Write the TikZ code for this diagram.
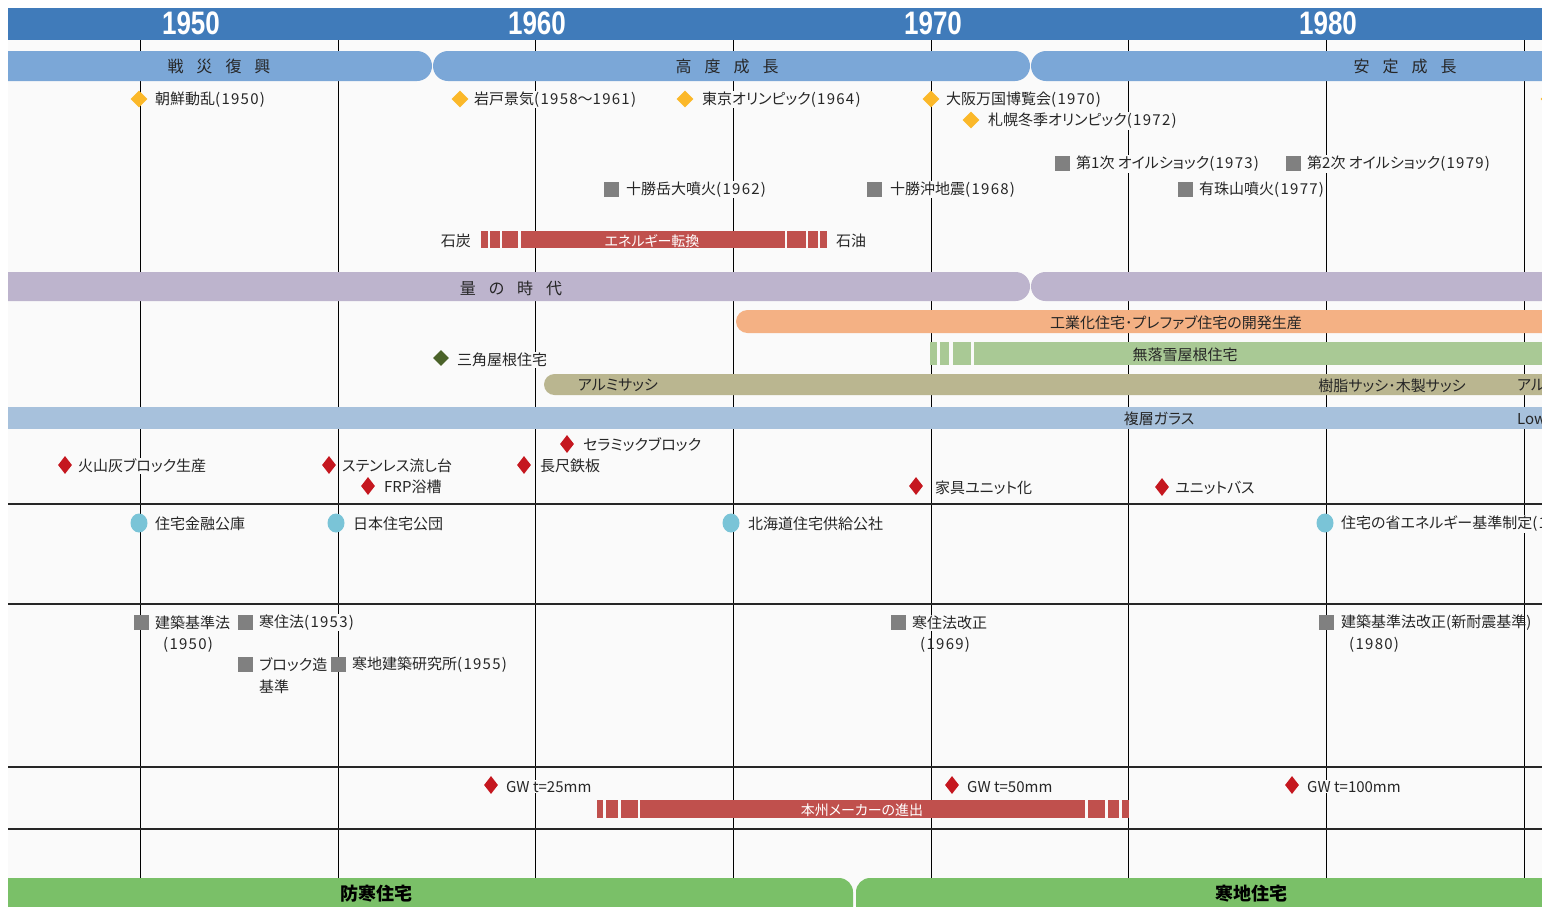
\documentclass[tikz,border=0pt]{standalone}
\usepackage{fontspec}
\usepackage{graphicx}
\usetikzlibrary{shapes.geometric}
\setmainfont{Noto Sans CJK JP}[RawFeature=+palt]
\newfontfamily\yearfont{Liberation Sans}
\newfontfamily\latf{Noto Sans CJK JP}[LetterSpace=8.5]
\newcommand\lat[1]{{\latf\fontsize{15}{18}\selectfont #1}}
\definecolor{bgc}{RGB}{250,250,250}
\definecolor{hdc}{RGB}{64,123,186}
\definecolor{era1c}{RGB}{123,167,215}
\definecolor{era2c}{RGB}{189,180,205}
\definecolor{orc}{RGB}{244,177,132}
\definecolor{grc}{RGB}{169,201,149}
\definecolor{khc}{RGB}{186,182,144}
\definecolor{glc}{RGB}{167,193,220}
\definecolor{redbar}{RGB}{192,80,77}
\definecolor{botc}{RGB}{122,192,104}
\definecolor{ydc}{RGB}{251,184,41}
\definecolor{sqc}{RGB}{128,128,128}
\definecolor{dgc}{RGB}{74,98,41}
\definecolor{rdc}{RGB}{197,23,31}
\definecolor{cyc}{RGB}{122,196,215}
\definecolor{txtc}{RGB}{38,38,38}
\tikzset{
  txt/.style={anchor=west, font=\fontsize{15}{18}\selectfont, text=txtc, inner sep=1pt, fill=bgc, yshift=-0.7pt},
  txtn/.style={anchor=west, font=\fontsize{15}{18}\selectfont, text=txtc, inner sep=1pt, yshift=-0.7pt},
  bartxt/.style={font=\fontsize{15}{18}\selectfont, text=txtc, inner sep=0pt, yshift=-1pt},
  wbartxt/.style={font=\fontsize{14}{18}\selectfont, text=white, inner sep=0pt, yshift=-1pt},
  eratxt/.style={font=\fontsize{16}{18}\selectfont, text=txtc, inner sep=0pt, yshift=-1pt},
  bottxt/.style={font=\fontsize{18}{20}\selectfont\bfseries, text=black, inner sep=0pt},
  yeartxt/.style={font=\yearfont\bfseries\fontsize{32.5}{34}\selectfont, text=white, inner sep=0pt},
  ydia/.style={diamond, fill=ydc, minimum width=17pt, minimum height=17pt, inner sep=0pt},
  gdia/.style={diamond, fill=dgc, minimum width=16pt, minimum height=16pt, inner sep=0pt},
  rdia/.style={diamond, fill=rdc, minimum width=14pt, minimum height=18pt, inner sep=0pt},
  sq/.style={rectangle, fill=sqc, minimum width=15pt, minimum height=15pt, inner sep=0pt},
  circ/.style={ellipse, fill=cyc, minimum width=17pt, minimum height=19pt, inner sep=0pt},
  vline/.style={black, line width=1pt},
  hline/.style={black!85, line width=1.2pt}
}
\begin{document}
\begin{tikzpicture}[x=1pt,y=-1pt]
\useasboundingbox (0,0) rectangle (1542,906);
\fill[white] (0,0) rectangle (1542,906);
\begin{scope}
\clip (8,8) rectangle (1542,906);
\fill[bgc] (8,40) rectangle (1542,906);
% vertical grid lines
\foreach \x in {140,338,535,733,931,1128,1326,1524}{
  \draw[vline] (\x,40) -- (\x,878);
}
% horizontal lines
\foreach \y in {504,604,767,829}{
  \draw[hline] (8,\y) -- (1542,\y);
}
% header
\fill[hdc] (8,8) rectangle (1542,40);
\node[yeartxt] (y1950) at (191,23.4) {\scalebox{0.8}[1]{1950}};
\node[yeartxt] (y1960) at (537,23.4) {\scalebox{0.8}[1]{1960}};
\node[yeartxt] (y1970) at (933,23.4) {\scalebox{0.8}[1]{1970}};
\node[yeartxt] (y1980) at (1328,23.4) {\scalebox{0.8}[1]{1980}};
% era row 1
\fill[era1c, rounded corners=15pt] (-40,51) rectangle (432,81);
\fill[era1c, rounded corners=15pt] (433,51) rectangle (1030,81);
\fill[era1c, rounded corners=15pt] (1031,51) rectangle (1640,81);
\node[eratxt] (e1) at (219,65) {戦\hspace{13pt}災\hspace{13pt}復\hspace{13pt}興};
\node[eratxt] (e2) at (727,65) {高\hspace{13pt}度\hspace{13pt}成\hspace{13pt}長};
\node[eratxt] (e3) at (1405,65) {安\hspace{13pt}定\hspace{13pt}成\hspace{13pt}長};
% events yellow
\node[ydia] (d1) at (139,99) {};
\node[txt] (t1) at (154,99) {朝鮮動乱\lat{(1950)}};
\node[ydia] (d2) at (460,99) {};
\node[txt] (t2) at (473,99) {岩戸景気\lat{(1958}～\lat{1961)}};
\node[ydia] (d3) at (685,99) {};
\node[txt] (t3) at (701,99) {東京オリンピック\lat{(1964)}};
\node[ydia] (d4) at (931,99) {};
\node[txt] (t4) at (945,99) {大阪万国博覧会\lat{(1970)}};
\node[ydia] (d5) at (971,120) {};
\node[txt] (t5) at (987,120) {札幌冬季オリンピック\lat{(1972)}};
\node[ydia] (d6) at (1549,99) {};
% disasters
\node[sq] (s1) at (611,189) {};
\node[txt] (u1) at (625,189) {十勝岳大噴火\lat{(1962)}};
\node[sq] (s2) at (874,189) {};
\node[txt] (u2) at (889,189) {十勝沖地震\lat{(1968)}};
\node[sq] (s3) at (1062,163) {};
\node[txt] (u3) at (1075,163) {第1次 オイルショック\lat{(1973)}};
\node[sq] (s4) at (1293,163) {};
\node[txt] (u4) at (1306,163) {第2次 オイルショック\lat{(1979)}};
\node[sq] (s5) at (1185,189) {};
\node[txt] (u5) at (1198,189) {有珠山噴火\lat{(1977)}};
% energy bar
\fill[redbar] (481,231) rectangle (488,248);
\fill[redbar] (490,231) rectangle (500,248);
\fill[redbar] (502,231) rectangle (518,248);
\fill[redbar] (521,231) rectangle (785,248);
\fill[redbar] (787,231) rectangle (806,248);
\fill[redbar] (808,231) rectangle (818,248);
\fill[redbar] (820,231) rectangle (827,248);
\node[wbartxt] (en) at (652,240) {エネルギー転換};
\node[txtn, anchor=east] (coal) at (472,240) {石炭};
\node[txtn] (oil) at (835,240) {石油};
% era row 2
\fill[era2c, rounded corners=14.5pt] (-40,272) rectangle (1030,301);
\fill[era2c, rounded corners=14.5pt] (1031,272) rectangle (1640,301);
\node[eratxt] (q1) at (511,287) {量\hspace{13pt}の\hspace{13pt}時\hspace{13pt}代};
% housing bars
\fill[orc, rounded corners=11.5pt] (736,310) rectangle (1640,333);
\node[bartxt] (ind) at (1176,321.5) {工業化住宅･プレファブ住宅の開発生産};
\fill[grc] (930,342) rectangle (937,365);
\fill[grc] (940,342) rectangle (949,365);
\fill[grc] (953,342) rectangle (971,365);
\fill[grc] (974,342) rectangle (1640,365);
\node[bartxt] (mr) at (1185,353.5) {無落雪屋根住宅};
\node[gdia] (g1) at (441,358) {};
\node[txt] (sk) at (456,359) {三角屋根住宅};
\fill[khc, rounded corners=10.5pt] (544,374) rectangle (1640,395);
\node[bartxt] (al) at (618,384.5) {アルミサッシ};
\node[bartxt] (js) at (1392,384.5) {樹脂サッシ･木製サッシ};
\node[bartxt, anchor=west] (al2) at (1517,384.5) {アル};
\fill[glc] (-40,407) rectangle (1640,429);
\node[bartxt] (fg) at (1159,418) {複層ガラス};
\node[bartxt, anchor=west] (low) at (1517,418) {Low};
% red diamonds (products)
\node[rdia] (r1) at (65,465) {};
\node[txt] (p1) at (77,465) {火山灰ブロック生産};
\node[rdia] (r2) at (329,465) {};
\node[txt] (p2) at (341,465) {ステンレス流し台};
\node[rdia] (r3) at (368,486) {};
\node[txt] (p3) at (383,486) {FRP浴槽};
\node[rdia] (r4) at (567,444) {};
\node[txt] (p4) at (582,444) {セラミックブロック};
\node[rdia] (r5) at (524,465) {};
\node[txt] (p5) at (539,465) {長尺鉄板};
\node[rdia] (r6) at (916,486) {};
\node[txt] (p6) at (934,487) {家具ユニット化};
\node[rdia] (r7) at (1162,487) {};
\node[txt] (p7) at (1174,487) {ユニットバス};
% organisations
\node[circ] (c1) at (139,523) {};
\node[txt] (o1) at (154,523) {住宅金融公庫};
\node[circ] (c2) at (336,523) {};
\node[txt] (o2) at (352,523) {日本住宅公団};
\node[circ] (c3) at (731,523) {};
\node[txt] (o3) at (747,523) {北海道住宅供給公社};
\node[circ] (c4) at (1325,523) {};
\node[txt] (o4) at (1340,523) {住宅の省エネルギー基準制定\lat{(1}};
% laws
\node[sq] (l1) at (141,622) {};
\node[txt] (la1) at (154,622) {建築基準法};
\node[txtn] (la1b) at (162,644) {\lat{(1950)}};
\node[sq] (l2) at (245,622) {};
\node[txt] (la2) at (258,622) {寒住法\lat{(1953)}};
\node[sq] (l3) at (245,664) {};
\node[txt] (la3) at (258,664) {ブロック造};
\node[txtn] (la3b) at (258,686) {基準};
\node[sq] (l4) at (338,664) {};
\node[txt] (la4) at (351,664) {寒地建築研究所\lat{(1955)}};
\node[sq] (l5) at (898,622) {};
\node[txt] (la5) at (911,622) {寒住法改正};
\node[txtn] (la5b) at (919,644) {\lat{(1969)}};
\node[sq] (l6) at (1326,622) {};
\node[txtn] (la6) at (1340,622) {建築基準法改正\lat{(}新耐震基準\lat{)}};
\node[txtn] (la6b) at (1348,644) {\lat{(1980)}};
% insulation
\node[rdia] (w1) at (491,785) {};
\node[txt] (gw1) at (505,786) {GW t=25mm};
\node[rdia] (w2) at (952,785) {};
\node[txt] (gw2) at (966,786) {GW t=50mm};
\node[rdia] (w3) at (1292,785) {};
\node[txt] (gw3) at (1306,786) {GW t=100mm};
\fill[redbar] (597,800) rectangle (603,818);
\fill[redbar] (606,800) rectangle (618,818);
\fill[redbar] (621,800) rectangle (638,818);
\fill[redbar] (640,800) rectangle (1085,818);
\fill[redbar] (1088,800) rectangle (1105,818);
\fill[redbar] (1108,800) rectangle (1119,818);
\fill[redbar] (1122,800) rectangle (1129,818);
\node[wbartxt] (hm) at (862,809) {本州メーカーの進出};
% bottom bar
\fill[botc, rounded corners=14pt] (-40,878) rectangle (853,940);
\fill[botc, rounded corners=14pt] (856,878) rectangle (1640,940);
\node[bottxt] (b1) at (376,894) {防寒住宅};
\node[bottxt] (b2) at (1251,894) {寒地住宅};
\end{scope}
\end{tikzpicture}
\end{document}
